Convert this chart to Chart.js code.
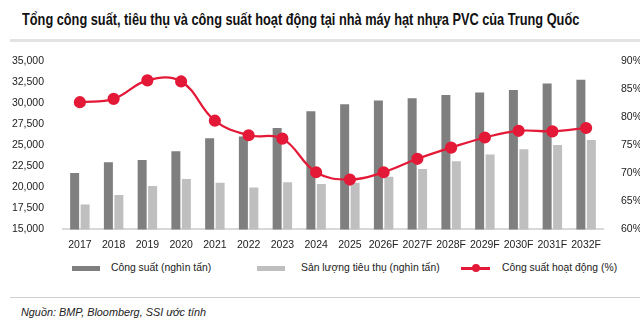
<!DOCTYPE html>
<html lang="vi">
<head>
  <meta charset="UTF-8">
  <title>Công suất PVC Trung Quốc</title>
  <script src="https://cdn.jsdelivr.net/npm/chart.js"></script>
  <style>
    body { margin: 0; width: 640px; height: 331px; background: #fff; overflow: hidden; position: relative;
           font-family: "Liberation Sans", Arial, sans-serif; color: #222; }
    .title { position: absolute; left: 22px; top: 10px; font-size: 17px; font-weight: bold; color: #111;
             white-space: nowrap; transform-origin: left top; }
    .rule-top { position: absolute; left: 10px; right: 0; top: 39px; height: 3px; background: #e3e3e3; }
    .chart-box { position: absolute; left: 0; top: 44px; width: 640px; height: 208px; }
    .legend span { position: absolute; }
    .legend .txt { top: 261px; font-size: 11.5px; color: #222; white-space: nowrap; transform: scaleX(0.9); transform-origin: left top; }
    .rule-bottom { position: absolute; left: 10px; right: 0; top: 297px; height: 1px; background: #cfcfcf; }
    .source { position: absolute; left: 21px; top: 306px; font-size: 10.5px; font-style: italic; color: #222;
              white-space: nowrap; transform-origin: left top; }
  </style>
</head>
<body>
  <div class="title" id="title">Tổng công suất, tiêu thụ và công suất hoạt động tại nhà máy hạt nhựa PVC của Trung Quốc</div>
  <div class="rule-top"></div>
  <div class="chart-box"><canvas id="pvcChart" width="640" height="208"></canvas></div>
  <div class="legend" id="legend"></div>
  <div class="rule-bottom"></div>
  <div class="source" id="source">Nguồn: BMP, Bloomberg, SSI ước tính</div>

  <script>
    // số liệu
    const years = ['2017', '2018', '2019', '2020', '2021', '2022', '2023', '2024', '2025',
                   '2026F', '2027F', '2028F', '2029F', '2030F', '2031F', '2032F'];
    const capacity = [21700, 23000, 23250, 24300, 25850, 26050, 27050, 29050, 29900,
                      30350, 30600, 31000, 31300, 31600, 32350, 32800];
    const consumption = [17950, 19100, 20150, 21000, 20550, 20000, 20600, 20400, 20550,
                         21250, 22200, 23100, 23900, 24550, 25050, 25650];
    const utilization = [82.7, 83.3, 86.6, 86.4, 79.4, 76.8, 76.2, 70.2, 68.9,
                         70.2, 72.6, 74.6, 76.4, 77.6, 77.5, 78.1];

    const DARK = '#7f7f7f';
    const LIGHT = '#bfbfbf';
    const RED = '#e31937';
    const FONT = '"Liberation Sans", Arial, sans-serif';

    // font hẹp: co chữ tiêu đề / nguồn cho vừa bề ngang như hình gốc
    function squeeze(id, width) {
      const el = document.getElementById(id);
      el.style.transform = 'scaleX(' + (width / el.offsetWidth) + ')';
    }
    squeeze('title', 557);
    squeeze('source', 185);

    const chart = new Chart(document.getElementById('pvcChart'), {
      type: 'bar',
      data: {
        labels: years,
        datasets: [
          { label: 'Công suất (nghìn tấn)', data: capacity, backgroundColor: DARK, yAxisID: 'y', order: 2 },
          { label: 'Sản lượng tiêu thụ (nghìn tấn)', data: consumption, backgroundColor: LIGHT, yAxisID: 'y', order: 2 },
          {
            type: 'line', label: 'Công suất hoạt động (%)', data: utilization, yAxisID: 'y1', order: 0,
            borderColor: RED, backgroundColor: RED, borderWidth: 2.2, tension: 0.4,
            pointRadius: 5, pointBackgroundColor: RED, pointBorderColor: RED
          }
        ]
      },
      options: {
        responsive: false,
        animation: false,
        layout: { padding: { top: 16, left: 0, right: 0, bottom: 0 } },
        datasets: { bar: { categoryPercentage: 0.62, barPercentage: 0.86 } },
        plugins: {
          tooltip: { enabled: false },
          legend: { display: false }
        },
        scales: {
          x: {
            grid: { display: false },
            border: { color: '#d9d9d9', width: 2 },
            ticks: { font: { family: FONT, size: 10.5 }, color: '#222', maxRotation: 0, autoSkip: false, padding: 1 }
          },
          y: {
            position: 'left',
            min: 15000, max: 35000,
            grid: { display: false },
            border: { display: false },
            ticks: {
              stepSize: 2500, padding: 11, color: '#222', font: { family: FONT, size: 10.5 },
              callback: v => v.toLocaleString('en-US')
            },
            afterFit: s => { s.width = 63; }
          },
          y1: {
            position: 'right',
            min: 60, max: 90,
            grid: { display: false },
            border: { display: false },
            ticks: { stepSize: 5, padding: 10, color: '#222', font: { family: FONT, size: 10.5 }, callback: v => v + '%' },
            afterFit: s => { s.width = 37; }
          }
        }
      }
    });

    // chú thích HTML, lấy tên từ các dataset
    const legendSpots = [
      { icon: 72, text: 111 },
      { icon: 257, text: 301 },
      { icon: 461, text: 502 }
    ];
    const legend = document.getElementById('legend');
    chart.data.datasets.forEach((ds, i) => {
      const spot = legendSpots[i];
      let icon;
      if (ds.type === 'line') {
        icon = `<span style="left:${spot.icon}px;top:267px;width:29px;height:2.5px;background:${ds.borderColor}"></span>` +
               `<span style="left:${spot.icon + 11}px;top:264px;width:8px;height:8px;border-radius:50%;background:${ds.borderColor}"></span>`;
      } else {
        icon = `<span style="left:${spot.icon}px;top:266px;width:28px;height:5px;background:${ds.backgroundColor}"></span>`;
      }
      legend.insertAdjacentHTML('beforeend', icon + `<span class="txt" style="left:${spot.text}px">${ds.label}</span>`);
    });
  </script>
</body>
</html>
